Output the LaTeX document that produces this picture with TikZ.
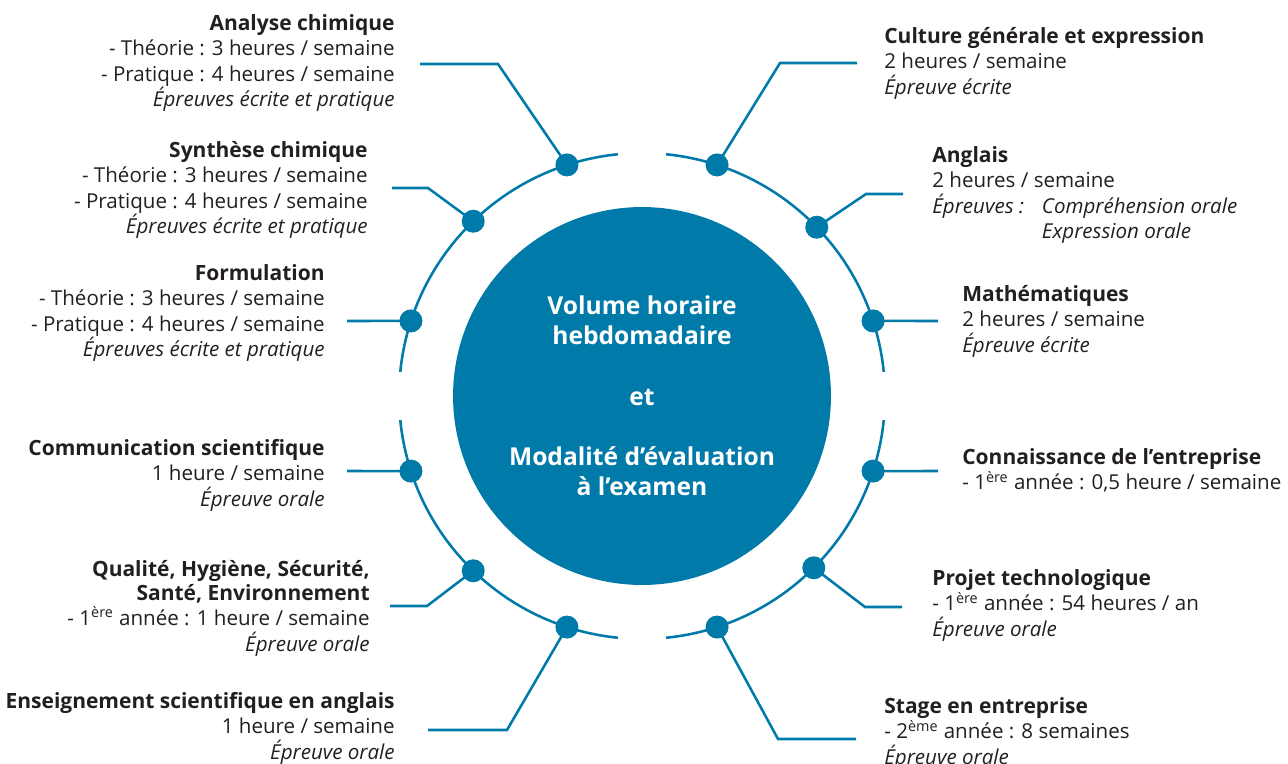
\documentclass[tikz,border=0pt]{standalone}
\usepackage{fontspec}
\setmainfont{Open Sans}
\usepackage{xcolor}
\usetikzlibrary{calc}
\definecolor{bleu}{RGB}{0,122,168}
\definecolor{encre}{RGB}{35,31,32}
\newcommand{\tete}{\rule{0pt}{12pt}}
\newcommand{\intitule}[1]{{\fontsize{11.95}{14.5}\selectfont\bfseries #1}}

\begin{document}
\begin{tikzpicture}[x=0.02cm,y=-0.02cm,
  dot node/.style={circle,fill=bleu,inner sep=0pt,minimum size=0.46cm},
  lien/.style={draw=bleu,line width=1.45pt},
  bloc gauche/.style={anchor=north east,align=right,inner sep=0pt,text=encre,font=\fontsize{11.7}{14.5}\selectfont},
  bloc droit/.style={anchor=north west,align=left,inner sep=0pt,text=encre,font=\fontsize{11.7}{14.5}\selectfont}]
            \useasboundingbox (0,0) rectangle (1288,764);

            % cercle central
            \node[circle,fill=bleu,inner sep=0pt,minimum size=7.56cm] (centre) at (642,396) {};
            \node[align=center,text=white,font=\bfseries\fontsize{14}{17.2}\selectfont] (titre) at (centre) {Volume horaire\\hebdomadaire\\[17.2pt]et\\[17.2pt]Modalité d’évaluation\\à l’examen};

            % anneau
            \foreach \a in {0,90,180,270}
                \draw[lien] ($(centre)+(\a+5.7:4.86cm)$) arc[start angle=\a+5.7,end angle=\a+84.3,radius=4.86cm];

            % points sur l'anneau
            \coordinate (Pana) at ($(centre)+(108:4.86cm)$);
            \coordinate (Psyn) at ($(centre)+(134:4.86cm)$);
            \coordinate (Pfor) at ($(centre)+(162:4.86cm)$);
            \coordinate (Pcom) at ($(centre)+(198:4.86cm)$);
            \coordinate (Pqhs) at ($(centre)+(226:4.86cm)$);
            \coordinate (Pens) at ($(centre)+(252:4.86cm)$);
            \coordinate (Pcul) at ($(centre)+(72:4.86cm)$);
            \coordinate (Pang) at ($(centre)+(44:4.86cm)$);
            \coordinate (Pmat) at ($(centre)+(18:4.86cm)$);
            \coordinate (Pcon) at ($(centre)+(-18:4.86cm)$);
            \coordinate (Ppro) at ($(centre)+(-45:4.86cm)$);
            \coordinate (Psta) at ($(centre)+(-72:4.86cm)$);

            % coudes et bouts des liens
            \coordinate (Kana) at (498,64);  \coordinate (Eana) at (420,64);
            \coordinate (Ksyn) at (428,188); \coordinate (Esyn) at (392,188);
            \coordinate (Efor) at (347,321);
            \coordinate (Ecom) at (347,471);
            \coordinate (Kqhs) at (427,606); \coordinate (Eqhs) at (390,606);
            \coordinate (Kens) at (507,730); \coordinate (Eens) at (428,730);
            \coordinate (Kcul) at (780,63);  \coordinate (Ecul) at (857,63);
            \coordinate (Kang) at (866,194); \coordinate (Eang) at (903,194);
            \coordinate (Emat) at (938,321);
            \coordinate (Econ) at (938,471);
            \coordinate (Kpro) at (865,607); \coordinate (Epro) at (902,607);
            \coordinate (Ksta) at (778,739); \coordinate (Esta) at (856,739);

            \draw[lien] (Pana) -- (Kana) -- (Eana);
            \draw[lien] (Psyn) -- (Ksyn) -- (Esyn);
            \draw[lien] (Pfor) -- (Efor);
            \draw[lien] (Pcom) -- (Ecom);
            \draw[lien] (Pqhs) -- (Kqhs) -- (Eqhs);
            \draw[lien] (Pens) -- (Kens) -- (Eens);
            \draw[lien] (Pcul) -- (Kcul) -- (Ecul);
            \draw[lien] (Pang) -- (Kang) -- (Eang);
            \draw[lien] (Pmat) -- (Emat);
            \draw[lien] (Pcon) -- (Econ);
            \draw[lien] (Ppro) -- (Kpro) -- (Epro);
            \draw[lien] (Psta) -- (Ksta) -- (Esta);

            \foreach \p in {ana,syn,for,com,qhs,ens,cul,ang,mat,con,pro,sta}
                \node[dot node] (D\p) at (P\p) {};

            % textes a gauche
            \node[bloc gauche] (ana) at (395,9) {\tete\intitule{Analyse chimique}\\- Théorie : 3 heures / semaine\\- Pratique : 4 heures / semaine\\\textit{Épreuves écrite et pratique}};
            \node[bloc gauche] (syn) at (368,136) {\tete\intitule{Synthèse chimique}\\- Théorie : 3 heures / semaine\\- Pratique : 4 heures / semaine\\\textit{Épreuves écrite et pratique}};
            \node[bloc gauche] (for) at (325,259) {\tete\intitule{Formulation}\\- Théorie : 3 heures / semaine\\- Pratique : 4 heures / semaine\\\textit{Épreuves écrite et pratique}};
            \node[bloc gauche] (com) at (325,434) {\tete\intitule{Communication scientifique}\\1 heure / semaine\\\textit{Épreuve orale}};
            \node[bloc gauche] (qhs) at (370,555) {\tete\intitule{Qualité, Hygiène, Sécurité,}\\[-1pt]\intitule{Santé, Environnement}\\- 1\textsuperscript{ère} année : 1 heure / semaine\\\textit{Épreuve orale}};
            \node[bloc gauche] (ens) at (395,687) {\tete\intitule{Enseignement scientifique en anglais}\\1 heure / semaine\\\textit{Épreuve orale}};

            % textes a droite
            \node[bloc droit] (cul) at (884,22) {\tete\intitule{Culture générale et expression}\\2 heures / semaine\\\textit{Épreuve écrite}};
            \node[bloc droit] (ang) at (932,141) {\tete\intitule{Anglais}\\2 heures / semaine\\\textit{\makebox[62.4pt][l]{Épreuves :}Compréhension orale}\\\textit{\hspace*{62.4pt}Expression orale}};
            \node[bloc droit] (mat) at (962,280) {\tete\intitule{Mathématiques}\\2 heures / semaine\\\textit{Épreuve écrite}};
            \node[bloc droit] (con) at (962,443) {\tete\intitule{Connaissance de l’entreprise}\\- 1\textsuperscript{ère} année : 0,5 heure / semaine};
            \node[bloc droit] (pro) at (932,564) {\tete\intitule{Projet technologique}\\- 1\textsuperscript{ère} année : 54 heures / an\\\textit{Épreuve orale}};
            \node[bloc droit] (sta) at (884,692) {\tete\intitule{Stage en entreprise}\\- 2\textsuperscript{ème} année : 8 semaines\\\textit{Épreuve orale}};
        \end{tikzpicture}
\end{document}
